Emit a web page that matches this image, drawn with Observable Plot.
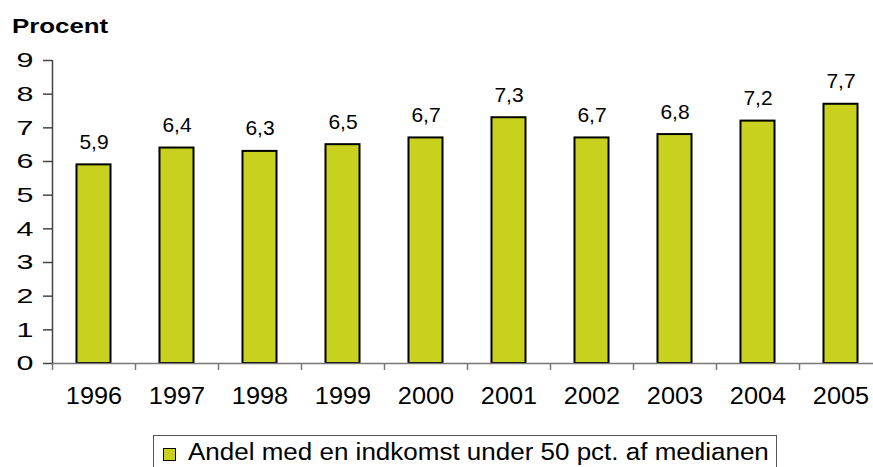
<!DOCTYPE html>
<html>
<head>
<meta charset="utf-8">
<script src="https://cdn.jsdelivr.net/npm/d3@7"></script>
<script src="https://cdn.jsdelivr.net/npm/@observablehq/plot@0.6"></script>
<style>
  html, body { margin: 0; padding: 0; background: white; overflow: hidden; }
  body { width: 873px; height: 467px; font-family: "Liberation Sans", Arial, sans-serif; }
  #title { height: 40px; position: relative; }
  #title span { position: absolute; left: 12px; top: 14px; font-weight: bold; font-size: 21px; color: #000; transform: scaleX(1.23); transform-origin: left center; }
  #legend { position: relative; height: 42px; }
  #legend .box { position: absolute; left: 153px; top: 10px; width: 624px; height: 34px; border: 1px solid #555; box-sizing: border-box; }
  #legend .sw { position: absolute; left: 9px; top: 12px; width: 13px; height: 13px; background: #c8d11e; border: 1.5px solid #000; box-sizing: border-box; }
  #legend .lbl { position: absolute; left: 34px; top: 3px; font-size: 23px; color: #000; white-space: nowrap; transform: scaleX(1.13); transform-origin: left center; }
</style>
</head>
<body>
<div id="title"><span>Procent</span></div>
<div id="chart"></div>
<div id="legend"><div class="box"><div class="sw"></div><div class="lbl">Andel med en indkomst under 50 pct. af medianen</div></div></div>
<script>
const years = [1996, 1997, 1998, 1999, 2000, 2001, 2002, 2003, 2004, 2005];
const values = [5.9, 6.4, 6.3, 6.5, 6.7, 7.3, 6.7, 6.8, 7.2, 7.7];
const yTicks = [0, 1, 2, 3, 4, 5, 6, 7, 8, 9];
const seriesName = "Andel med en indkomst under 50 pct. af medianen";

const data = years.map((y, i) => ({year: y, value: values[i], label: String(values[i]).replace(".", ",")}));
const boundaries = [...years.map(y => y - 0.5), years[years.length - 1] + 0.5];
const halfBar = 0.205;

const plot = Plot.plot({
  width: 873,
  height: 385,
  marginTop: 20,
  marginBottom: 62,
  marginLeft: 52,
  marginRight: 0,
  style: {fontFamily: "Liberation Sans, Arial, sans-serif", color: "#000", background: "white", overflow: "visible"},
  x: {type: "linear", domain: [boundaries[0], boundaries[boundaries.length - 1]], range: [52, 882]},
  y: {domain: [0, 9]},
  marks: [
    Plot.rectY(data, {x1: d => d.year - halfBar, x2: d => d.year + halfBar, y1: 0, y2: "value", fill: "#c8d11e", stroke: "#000", strokeWidth: 2}),
    Plot.text(data, {x: "year", y: "value", text: "label", lineAnchor: "bottom", dy: -16, fontSize: 21, fill: "#000"}),
    Plot.ruleY([0], {stroke: "#777", strokeWidth: 1.5}),
    Plot.ruleX([boundaries[0]], {y1: 0, y2: 9, stroke: "#444", strokeWidth: 1.5}),
    Plot.axisY(yTicks, {tickSize: 9, tickPadding: 10, fontSize: 21, stroke: "#444", strokeWidth: 1.5, label: null}),
    Plot.axisX(boundaries, {tickSize: 7, tickFormat: () => "", stroke: "#777", strokeWidth: 1.5, label: null}),
    Plot.axisX(years, {tickSize: 0, tickPadding: 24, fontSize: 23, tickFormat: d => String(d), label: null})
  ]
});
document.getElementById("chart").appendChild(plot);

function stretch(selector, factor) {
  plot.querySelectorAll(selector).forEach(t => {
    const w = t.getComputedTextLength();
    if (w > 0) {
      t.setAttribute("textLength", w * factor);
      t.setAttribute("lengthAdjust", "spacingAndGlyphs");
    }
  });
}
stretch('g[aria-label="y-axis tick label"] text', 1.45);
stretch('g[aria-label="x-axis tick label"] text', 1.1);
</script>
</body>
</html>
